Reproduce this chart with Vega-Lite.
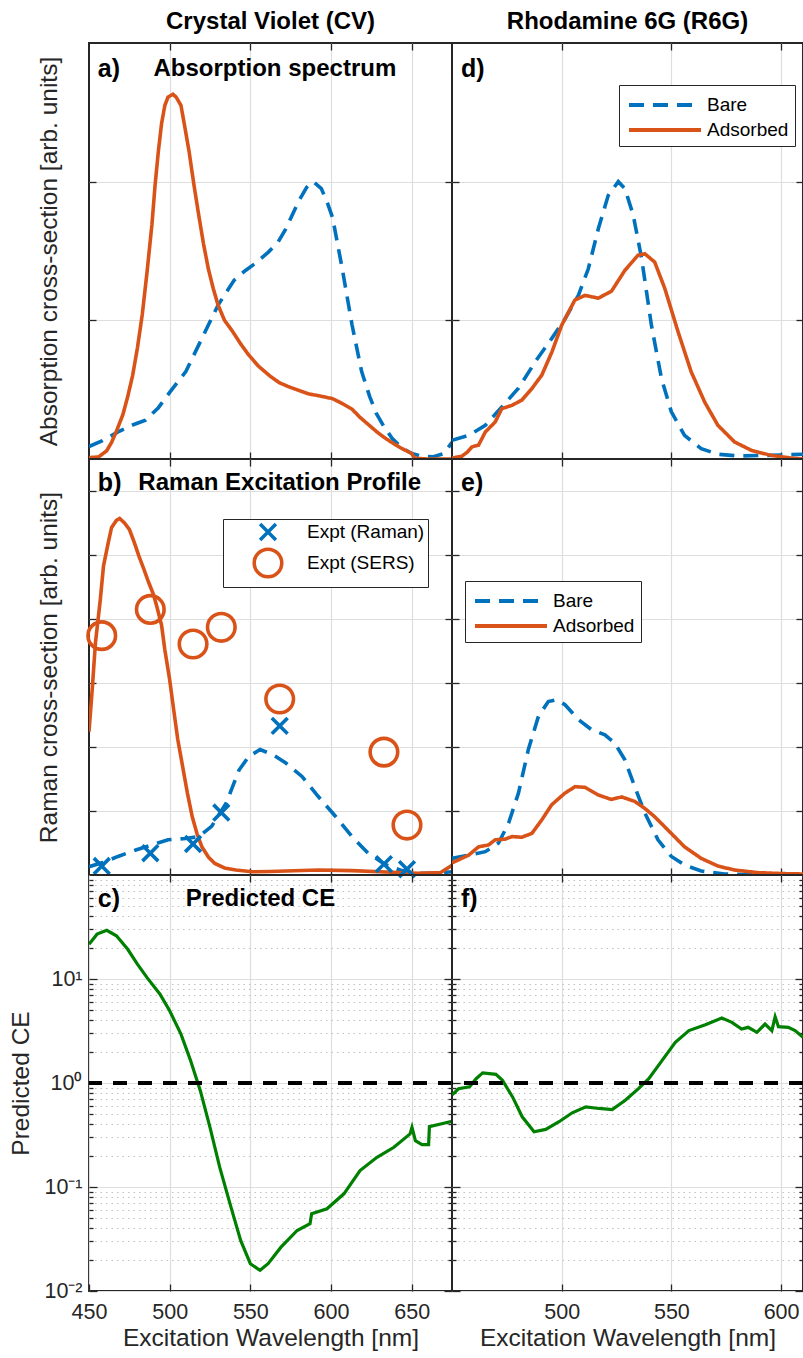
{
  "$schema": "https://vega.github.io/schema/vega-lite/v6.json",
  "padding": {"left": 7, "top": 9, "right": 0, "bottom": 0},
  "bounds": "flush",
  "columns": 2,
  "spacing": 0,
  "resolve": {
    "scale": {"x": "independent", "y": "independent", "color": "independent", "strokeDash": "independent", "shape": "independent", "size": "independent"},
    "axis": {"x": "independent", "y": "independent"}
  },
  "config": {
    "font": "Liberation Sans",
    "view": {"stroke": "#262626", "strokeWidth": 2},
    "axis": {"domain": false, "tickColor": "#262626", "tickWidth": 1.3, "gridColor": "#dedede", "gridWidth": 1.2, "labelColor": "#262626", "labelFontSize": 21.5, "titleColor": "#262626", "titleFontSize": 24.5, "titleFontWeight": "normal", "labelFont": "Liberation Sans", "titleFont": "Liberation Sans"},
    "legend": {"strokeColor": "#262626", "fillColor": "white", "padding": 6, "labelFontSize": 19, "labelColor": "#000000", "labelFont": "Liberation Sans", "cornerRadius": 0},
    "title": {"font": "Liberation Sans", "fontSize": 24, "fontWeight": "bold", "color": "#000000", "offset": 8}
  },
  "datasets": {
    "cvAbs": [
      {"s": "Bare", "wl": 450, "v": 0.09}, {"s": "Bare", "wl": 458, "v": 0.13}, {"s": "Bare", "wl": 468, "v": 0.195}, {"s": "Bare", "wl": 477, "v": 0.245}, {"s": "Bare", "wl": 485, "v": 0.28}, {"s": "Bare", "wl": 493, "v": 0.37}, {"s": "Bare", "wl": 500, "v": 0.48}, {"s": "Bare", "wl": 510, "v": 0.63}, {"s": "Bare", "wl": 520, "v": 0.87}, {"s": "Bare", "wl": 530, "v": 1.11}, {"s": "Bare", "wl": 540, "v": 1.29}, {"s": "Bare", "wl": 547, "v": 1.36}, {"s": "Bare", "wl": 553, "v": 1.41}, {"s": "Bare", "wl": 561, "v": 1.49}, {"s": "Bare", "wl": 567, "v": 1.56}, {"s": "Bare", "wl": 572, "v": 1.66}, {"s": "Bare", "wl": 580, "v": 1.86}, {"s": "Bare", "wl": 585, "v": 1.96}, {"s": "Bare", "wl": 589, "v": 2.0}, {"s": "Bare", "wl": 594, "v": 1.95}, {"s": "Bare", "wl": 598, "v": 1.84}, {"s": "Bare", "wl": 601, "v": 1.74}, {"s": "Bare", "wl": 607, "v": 1.37}, {"s": "Bare", "wl": 613, "v": 0.97}, {"s": "Bare", "wl": 619, "v": 0.63}, {"s": "Bare", "wl": 624, "v": 0.45}, {"s": "Bare", "wl": 628, "v": 0.33}, {"s": "Bare", "wl": 633, "v": 0.23}, {"s": "Bare", "wl": 638, "v": 0.147}, {"s": "Bare", "wl": 644, "v": 0.08}, {"s": "Bare", "wl": 650, "v": 0.04}, {"s": "Bare", "wl": 656, "v": 0.02}, {"s": "Bare", "wl": 663, "v": 0.015}, {"s": "Bare", "wl": 670, "v": 0.04}, {"s": "Bare", "wl": 675, "v": 0.12},
      {"s": "Adsorbed", "wl": 450, "v": 0.01}, {"s": "Adsorbed", "wl": 456, "v": 0.015}, {"s": "Adsorbed", "wl": 461, "v": 0.06}, {"s": "Adsorbed", "wl": 464, "v": 0.12}, {"s": "Adsorbed", "wl": 467, "v": 0.2}, {"s": "Adsorbed", "wl": 471, "v": 0.32}, {"s": "Adsorbed", "wl": 474, "v": 0.45}, {"s": "Adsorbed", "wl": 477, "v": 0.6}, {"s": "Adsorbed", "wl": 480, "v": 0.8}, {"s": "Adsorbed", "wl": 483, "v": 1.04}, {"s": "Adsorbed", "wl": 486, "v": 1.35}, {"s": "Adsorbed", "wl": 489, "v": 1.69}, {"s": "Adsorbed", "wl": 491, "v": 1.98}, {"s": "Adsorbed", "wl": 493, "v": 2.22}, {"s": "Adsorbed", "wl": 495, "v": 2.42}, {"s": "Adsorbed", "wl": 497, "v": 2.55}, {"s": "Adsorbed", "wl": 499, "v": 2.61}, {"s": "Adsorbed", "wl": 502, "v": 2.63}, {"s": "Adsorbed", "wl": 504, "v": 2.61}, {"s": "Adsorbed", "wl": 507, "v": 2.55}, {"s": "Adsorbed", "wl": 509, "v": 2.42}, {"s": "Adsorbed", "wl": 512, "v": 2.22}, {"s": "Adsorbed", "wl": 515, "v": 1.98}, {"s": "Adsorbed", "wl": 518, "v": 1.76}, {"s": "Adsorbed", "wl": 521, "v": 1.55}, {"s": "Adsorbed", "wl": 524, "v": 1.37}, {"s": "Adsorbed", "wl": 527, "v": 1.23}, {"s": "Adsorbed", "wl": 530, "v": 1.11}, {"s": "Adsorbed", "wl": 534, "v": 1.0}, {"s": "Adsorbed", "wl": 539, "v": 0.92}, {"s": "Adsorbed", "wl": 544, "v": 0.83}, {"s": "Adsorbed", "wl": 549, "v": 0.75}, {"s": "Adsorbed", "wl": 555, "v": 0.67}, {"s": "Adsorbed", "wl": 562, "v": 0.6}, {"s": "Adsorbed", "wl": 568, "v": 0.55}, {"s": "Adsorbed", "wl": 574, "v": 0.52}, {"s": "Adsorbed", "wl": 580, "v": 0.495}, {"s": "Adsorbed", "wl": 586, "v": 0.47}, {"s": "Adsorbed", "wl": 593, "v": 0.455}, {"s": "Adsorbed", "wl": 601, "v": 0.435}, {"s": "Adsorbed", "wl": 607, "v": 0.4}, {"s": "Adsorbed", "wl": 613, "v": 0.36}, {"s": "Adsorbed", "wl": 618, "v": 0.3}, {"s": "Adsorbed", "wl": 624, "v": 0.24}, {"s": "Adsorbed", "wl": 629, "v": 0.19}, {"s": "Adsorbed", "wl": 634, "v": 0.147}, {"s": "Adsorbed", "wl": 639, "v": 0.11}, {"s": "Adsorbed", "wl": 644, "v": 0.075}, {"s": "Adsorbed", "wl": 650, "v": 0.04}, {"s": "Adsorbed", "wl": 652, "v": 0.005}, {"s": "Adsorbed", "wl": 660, "v": 0.0}, {"s": "Adsorbed", "wl": 675, "v": 0.0}
    ],
    "cvRep": [
      {"s": "Bare", "wl": 450, "v": 0.13}, {"s": "Bare", "wl": 458, "v": 0.19}, {"s": "Bare", "wl": 468, "v": 0.29}, {"s": "Bare", "wl": 479, "v": 0.39}, {"s": "Bare", "wl": 489, "v": 0.47}, {"s": "Bare", "wl": 499, "v": 0.55}, {"s": "Bare", "wl": 510, "v": 0.57}, {"s": "Bare", "wl": 518, "v": 0.6}, {"s": "Bare", "wl": 526, "v": 0.76}, {"s": "Bare", "wl": 535, "v": 1.12}, {"s": "Bare", "wl": 543, "v": 1.64}, {"s": "Bare", "wl": 549, "v": 1.85}, {"s": "Bare", "wl": 556, "v": 1.96}, {"s": "Bare", "wl": 564, "v": 1.88}, {"s": "Bare", "wl": 572, "v": 1.75}, {"s": "Bare", "wl": 582, "v": 1.54}, {"s": "Bare", "wl": 592, "v": 1.23}, {"s": "Bare", "wl": 603, "v": 0.91}, {"s": "Bare", "wl": 613, "v": 0.6}, {"s": "Bare", "wl": 623, "v": 0.34}, {"s": "Bare", "wl": 634, "v": 0.16}, {"s": "Bare", "wl": 644, "v": 0.068}, {"s": "Bare", "wl": 654, "v": 0.026}, {"s": "Bare", "wl": 665, "v": 0.026}, {"s": "Bare", "wl": 675, "v": 0.05},
      {"s": "Adsorbed", "wl": 450, "v": 2.24}, {"s": "Adsorbed", "wl": 452, "v": 2.9}, {"s": "Adsorbed", "wl": 454, "v": 3.63}, {"s": "Adsorbed", "wl": 457, "v": 4.3}, {"s": "Adsorbed", "wl": 459, "v": 4.83}, {"s": "Adsorbed", "wl": 462, "v": 5.2}, {"s": "Adsorbed", "wl": 464, "v": 5.43}, {"s": "Adsorbed", "wl": 467, "v": 5.54}, {"s": "Adsorbed", "wl": 469, "v": 5.57}, {"s": "Adsorbed", "wl": 472, "v": 5.5}, {"s": "Adsorbed", "wl": 475, "v": 5.4}, {"s": "Adsorbed", "wl": 478, "v": 5.2}, {"s": "Adsorbed", "wl": 481, "v": 4.98}, {"s": "Adsorbed", "wl": 484, "v": 4.78}, {"s": "Adsorbed", "wl": 487, "v": 4.57}, {"s": "Adsorbed", "wl": 490, "v": 4.38}, {"s": "Adsorbed", "wl": 492, "v": 4.2}, {"s": "Adsorbed", "wl": 495, "v": 3.9}, {"s": "Adsorbed", "wl": 497, "v": 3.52}, {"s": "Adsorbed", "wl": 500, "v": 3.05}, {"s": "Adsorbed", "wl": 502.5, "v": 2.58}, {"s": "Adsorbed", "wl": 505, "v": 2.12}, {"s": "Adsorbed", "wl": 508, "v": 1.7}, {"s": "Adsorbed", "wl": 511, "v": 1.28}, {"s": "Adsorbed", "wl": 514, "v": 0.91}, {"s": "Adsorbed", "wl": 517, "v": 0.64}, {"s": "Adsorbed", "wl": 520, "v": 0.44}, {"s": "Adsorbed", "wl": 524, "v": 0.28}, {"s": "Adsorbed", "wl": 528, "v": 0.18}, {"s": "Adsorbed", "wl": 534, "v": 0.11}, {"s": "Adsorbed", "wl": 541, "v": 0.078}, {"s": "Adsorbed", "wl": 551, "v": 0.05}, {"s": "Adsorbed", "wl": 562, "v": 0.055}, {"s": "Adsorbed", "wl": 572, "v": 0.063}, {"s": "Adsorbed", "wl": 592, "v": 0.078}, {"s": "Adsorbed", "wl": 613, "v": 0.068}, {"s": "Adsorbed", "wl": 634, "v": 0.047}, {"s": "Adsorbed", "wl": 654, "v": 0.026}, {"s": "Adsorbed", "wl": 668, "v": 0.04}, {"s": "Adsorbed", "wl": 675, "v": 0.15}
    ],
    "cvExpt": [
      {"s": "Expt (Raman)", "wl": 457.9, "v": 0.14}, {"s": "Expt (Raman)", "wl": 488, "v": 0.34}, {"s": "Expt (Raman)", "wl": 514.5, "v": 0.485}, {"s": "Expt (Raman)", "wl": 532, "v": 0.976}, {"s": "Expt (Raman)", "wl": 568.2, "v": 2.33}, {"s": "Expt (Raman)", "wl": 632.8, "v": 0.17}, {"s": "Expt (Raman)", "wl": 647.1, "v": 0.09},
      {"s": "Expt (SERS)", "wl": 457.9, "v": 3.74}, {"s": "Expt (SERS)", "wl": 488, "v": 4.15}, {"s": "Expt (SERS)", "wl": 514.5, "v": 3.61}, {"s": "Expt (SERS)", "wl": 532, "v": 3.87}, {"s": "Expt (SERS)", "wl": 568.2, "v": 2.75}, {"s": "Expt (SERS)", "wl": 632.8, "v": 1.92}, {"s": "Expt (SERS)", "wl": 647.1, "v": 0.78}
    ],
    "cvCE": [
      {"wl": 450, "v": 21.6}, {"wl": 455, "v": 27}, {"wl": 461, "v": 29.4}, {"wl": 467, "v": 26}, {"wl": 474, "v": 19.3}, {"wl": 480, "v": 13.9}, {"wl": 486, "v": 10.3}, {"wl": 494, "v": 7.15}, {"wl": 500, "v": 4.95}, {"wl": 507, "v": 2.95}, {"wl": 513, "v": 1.64}, {"wl": 519, "v": 0.844}, {"wl": 525, "v": 0.375}, {"wl": 531, "v": 0.155}, {"wl": 538, "v": 0.064}, {"wl": 544, "v": 0.0306}, {"wl": 550, "v": 0.0183}, {"wl": 556, "v": 0.0158}, {"wl": 561, "v": 0.0183}, {"wl": 569, "v": 0.0264}, {"wl": 579, "v": 0.0382}, {"wl": 587, "v": 0.0443}, {"wl": 588, "v": 0.0552}, {"wl": 597.5, "v": 0.0617}, {"wl": 608, "v": 0.086}, {"wl": 618, "v": 0.144}, {"wl": 628.5, "v": 0.193}, {"wl": 639, "v": 0.241}, {"wl": 649, "v": 0.324}, {"wl": 650.2, "v": 0.375}, {"wl": 652.3, "v": 0.279}, {"wl": 656.4, "v": 0.256}, {"wl": 660.5, "v": 0.256}, {"wl": 661, "v": 0.381}, {"wl": 668, "v": 0.404}, {"wl": 675, "v": 0.428}
    ],
    "r6gAbs": [
      {"s": "Bare", "wl": 450, "v": 0.135}, {"s": "Bare", "wl": 457.6, "v": 0.17}, {"s": "Bare", "wl": 465.2, "v": 0.243}, {"s": "Bare", "wl": 472.7, "v": 0.375}, {"s": "Bare", "wl": 480.3, "v": 0.51}, {"s": "Bare", "wl": 487.9, "v": 0.7}, {"s": "Bare", "wl": 495.5, "v": 0.87}, {"s": "Bare", "wl": 501.5, "v": 1.01}, {"s": "Bare", "wl": 507.6, "v": 1.18}, {"s": "Bare", "wl": 512.1, "v": 1.37}, {"s": "Bare", "wl": 516.7, "v": 1.66}, {"s": "Bare", "wl": 521.2, "v": 1.9}, {"s": "Bare", "wl": 525.8, "v": 2.0}, {"s": "Bare", "wl": 528.8, "v": 1.95}, {"s": "Bare", "wl": 532.6, "v": 1.76}, {"s": "Bare", "wl": 536.4, "v": 1.45}, {"s": "Bare", "wl": 540.9, "v": 0.965}, {"s": "Bare", "wl": 545.5, "v": 0.58}, {"s": "Bare", "wl": 550, "v": 0.34}, {"s": "Bare", "wl": 556, "v": 0.17}, {"s": "Bare", "wl": 563.6, "v": 0.075}, {"s": "Bare", "wl": 571.2, "v": 0.034}, {"s": "Bare", "wl": 580.3, "v": 0.022}, {"s": "Bare", "wl": 594, "v": 0.026}, {"s": "Bare", "wl": 610, "v": 0.034},
      {"s": "Adsorbed", "wl": 450, "v": 0.007}, {"s": "Adsorbed", "wl": 454.5, "v": 0.02}, {"s": "Adsorbed", "wl": 457, "v": 0.05}, {"s": "Adsorbed", "wl": 459.1, "v": 0.087}, {"s": "Adsorbed", "wl": 462.1, "v": 0.1}, {"s": "Adsorbed", "wl": 465.2, "v": 0.195}, {"s": "Adsorbed", "wl": 469.7, "v": 0.267}, {"s": "Adsorbed", "wl": 472.7, "v": 0.363}, {"s": "Adsorbed", "wl": 477.3, "v": 0.387}, {"s": "Adsorbed", "wl": 481.8, "v": 0.424}, {"s": "Adsorbed", "wl": 486.4, "v": 0.508}, {"s": "Adsorbed", "wl": 490.9, "v": 0.604}, {"s": "Adsorbed", "wl": 495.5, "v": 0.77}, {"s": "Adsorbed", "wl": 500, "v": 0.965}, {"s": "Adsorbed", "wl": 506, "v": 1.146}, {"s": "Adsorbed", "wl": 510.6, "v": 1.18}, {"s": "Adsorbed", "wl": 516.7, "v": 1.16}, {"s": "Adsorbed", "wl": 522.7, "v": 1.21}, {"s": "Adsorbed", "wl": 528.8, "v": 1.36}, {"s": "Adsorbed", "wl": 534.8, "v": 1.47}, {"s": "Adsorbed", "wl": 537.9, "v": 1.48}, {"s": "Adsorbed", "wl": 542.4, "v": 1.42}, {"s": "Adsorbed", "wl": 547, "v": 1.23}, {"s": "Adsorbed", "wl": 553, "v": 0.92}, {"s": "Adsorbed", "wl": 559, "v": 0.63}, {"s": "Adsorbed", "wl": 565.2, "v": 0.41}, {"s": "Adsorbed", "wl": 571.2, "v": 0.243}, {"s": "Adsorbed", "wl": 578.8, "v": 0.123}, {"s": "Adsorbed", "wl": 586.4, "v": 0.063}, {"s": "Adsorbed", "wl": 595.5, "v": 0.026}, {"s": "Adsorbed", "wl": 604.5, "v": 0.007}, {"s": "Adsorbed", "wl": 610, "v": 0.0}
    ],
    "r6gRep": [
      {"s": "Bare", "wl": 450, "v": 0.26}, {"s": "Bare", "wl": 457.6, "v": 0.31}, {"s": "Bare", "wl": 465.2, "v": 0.365}, {"s": "Bare", "wl": 471.2, "v": 0.5}, {"s": "Bare", "wl": 475.8, "v": 0.81}, {"s": "Bare", "wl": 480.3, "v": 1.28}, {"s": "Bare", "wl": 484.8, "v": 1.96}, {"s": "Bare", "wl": 489.4, "v": 2.48}, {"s": "Bare", "wl": 493.9, "v": 2.71}, {"s": "Bare", "wl": 497.7, "v": 2.74}, {"s": "Bare", "wl": 501.5, "v": 2.66}, {"s": "Bare", "wl": 507.6, "v": 2.43}, {"s": "Bare", "wl": 513.6, "v": 2.27}, {"s": "Bare", "wl": 519.7, "v": 2.19}, {"s": "Bare", "wl": 524.2, "v": 2.06}, {"s": "Bare", "wl": 528.8, "v": 1.8}, {"s": "Bare", "wl": 533.3, "v": 1.38}, {"s": "Bare", "wl": 537.9, "v": 0.97}, {"s": "Bare", "wl": 543.9, "v": 0.55}, {"s": "Bare", "wl": 550, "v": 0.29}, {"s": "Bare", "wl": 556, "v": 0.157}, {"s": "Bare", "wl": 563.6, "v": 0.063}, {"s": "Bare", "wl": 574.2, "v": 0.016}, {"s": "Bare", "wl": 586.4, "v": 0.005}, {"s": "Bare", "wl": 610, "v": 0.005},
      {"s": "Adsorbed", "wl": 450, "v": 0.19}, {"s": "Adsorbed", "wl": 457.6, "v": 0.31}, {"s": "Adsorbed", "wl": 462.1, "v": 0.44}, {"s": "Adsorbed", "wl": 466.7, "v": 0.47}, {"s": "Adsorbed", "wl": 469.7, "v": 0.55}, {"s": "Adsorbed", "wl": 474.2, "v": 0.56}, {"s": "Adsorbed", "wl": 477.3, "v": 0.6}, {"s": "Adsorbed", "wl": 481.8, "v": 0.59}, {"s": "Adsorbed", "wl": 486.4, "v": 0.65}, {"s": "Adsorbed", "wl": 490.9, "v": 0.86}, {"s": "Adsorbed", "wl": 495.5, "v": 1.1}, {"s": "Adsorbed", "wl": 501.5, "v": 1.28}, {"s": "Adsorbed", "wl": 506.1, "v": 1.38}, {"s": "Adsorbed", "wl": 510.6, "v": 1.37}, {"s": "Adsorbed", "wl": 516.7, "v": 1.25}, {"s": "Adsorbed", "wl": 522.7, "v": 1.18}, {"s": "Adsorbed", "wl": 527.3, "v": 1.22}, {"s": "Adsorbed", "wl": 533.3, "v": 1.15}, {"s": "Adsorbed", "wl": 537.9, "v": 1.04}, {"s": "Adsorbed", "wl": 542.4, "v": 0.91}, {"s": "Adsorbed", "wl": 548.5, "v": 0.7}, {"s": "Adsorbed", "wl": 556, "v": 0.44}, {"s": "Adsorbed", "wl": 563.6, "v": 0.26}, {"s": "Adsorbed", "wl": 571.2, "v": 0.14}, {"s": "Adsorbed", "wl": 578.8, "v": 0.078}, {"s": "Adsorbed", "wl": 589.4, "v": 0.037}, {"s": "Adsorbed", "wl": 601.5, "v": 0.021}, {"s": "Adsorbed", "wl": 610, "v": 0.016}
    ],
    "r6gCE": [
      {"wl": 450, "v": 0.77}, {"wl": 453, "v": 0.88}, {"wl": 458, "v": 0.92}, {"wl": 461, "v": 1.1}, {"wl": 464, "v": 1.25}, {"wl": 470, "v": 1.21}, {"wl": 473, "v": 1.06}, {"wl": 477.6, "v": 0.735}, {"wl": 482, "v": 0.473}, {"wl": 487.4, "v": 0.34}, {"wl": 492.7, "v": 0.358}, {"wl": 498.8, "v": 0.424}, {"wl": 504.8, "v": 0.517}, {"wl": 511, "v": 0.59}, {"wl": 517, "v": 0.569}, {"wl": 523, "v": 0.556}, {"wl": 529, "v": 0.683}, {"wl": 535, "v": 0.883}, {"wl": 539.7, "v": 1.1}, {"wl": 545.8, "v": 1.65}, {"wl": 551.8, "v": 2.46}, {"wl": 558, "v": 3.19}, {"wl": 565.5, "v": 3.63}, {"wl": 573, "v": 4.21}, {"wl": 577.6, "v": 3.83}, {"wl": 582, "v": 3.3}, {"wl": 585, "v": 3.43}, {"wl": 589, "v": 3.07}, {"wl": 592.7, "v": 3.69}, {"wl": 595.8, "v": 3.19}, {"wl": 597.3, "v": 4.33}, {"wl": 598.8, "v": 3.48}, {"wl": 603.3, "v": 3.43}, {"wl": 606.4, "v": 3.19}, {"wl": 610, "v": 2.75}
    ]
  },
  "concat": [
    {
      "width": 363, "height": 416,
      "title": {"text": "Crystal Violet (CV)"},
      "resolve": {"axis": {"x": "independent", "y": "independent"}},
      "layer": [
        {"data": {"name": "cvAbs"}, "mark": {"type": "line", "strokeWidth": 3.6, "clip": true},
         "encoding": {
           "x": {"field": "wl", "type": "quantitative", "scale": {"domain": [450, 675], "nice": false}, "axis": {"orient": "bottom", "values": [500, 550, 600, 650], "labels": false, "title": null, "tickSize": -7, "grid": true}},
           "y": {"field": "v", "type": "quantitative", "scale": {"domain": [0, 3], "nice": false}, "axis": {"orient": "left", "values": [1, 2], "labels": false, "title": "Absorption cross-section [arb. units]", "titlePadding": 27, "tickSize": -7, "grid": true}},
           "color": {"field": "s", "type": "nominal", "scale": {"domain": ["Bare", "Adsorbed"], "range": ["#0072BD", "#D95319"]}, "legend": null},
           "strokeDash": {"field": "s", "type": "nominal", "scale": {"domain": ["Bare", "Adsorbed"], "range": [[15, 9], [1, 0]]}, "legend": null}
         }},
        {"data": {"name": "cvAbs"}, "mark": {"type": "line", "opacity": 0},
         "encoding": {
           "x": {"field": "wl", "type": "quantitative", "scale": {"domain": [450, 675], "nice": false}, "axis": {"orient": "top", "values": [500, 550, 600, 650], "labels": false, "title": null, "tickSize": -7, "grid": false}},
           "y": {"field": "v", "type": "quantitative", "scale": {"domain": [0, 3], "nice": false}, "axis": {"orient": "right", "values": [1, 2], "labels": false, "title": null, "tickSize": -7, "grid": false}},
           "detail": {"field": "s"}
         }},
        {"data": {"values": [{}]}, "mark": {"type": "text", "text": "a)", "align": "left", "baseline": "middle", "fontSize": 25, "fontWeight": "bold", "color": "#000000"},
         "encoding": {"x": {"datum": 455.5, "type": "quantitative", "scale": {"domain": [450, 675], "nice": false}, "axis": null}, "y": {"datum": 2.81, "type": "quantitative", "scale": {"domain": [0, 3], "nice": false}, "axis": null}}},
        {"data": {"values": [{}]}, "mark": {"type": "text", "text": "Absorption spectrum", "align": "left", "baseline": "middle", "fontSize": 24, "fontWeight": "bold", "color": "#000000"},
         "encoding": {"x": {"datum": 490, "type": "quantitative", "scale": {"domain": [450, 675], "nice": false}, "axis": null}, "y": {"datum": 2.81, "type": "quantitative", "scale": {"domain": [0, 3], "nice": false}, "axis": null}}}
      ]
    },
    {
      "width": 351, "height": 416,
      "title": {"text": "Rhodamine 6G (R6G)"},
      "resolve": {"axis": {"x": "independent", "y": "independent"}},
      "layer": [
        {"data": {"name": "r6gAbs"}, "mark": {"type": "line", "strokeWidth": 3.6, "clip": true},
         "encoding": {
           "x": {"field": "wl", "type": "quantitative", "scale": {"domain": [450, 610], "nice": false}, "axis": {"orient": "bottom", "values": [500, 550, 600], "labels": false, "title": null, "tickSize": -7, "grid": true}},
           "y": {"field": "v", "type": "quantitative", "scale": {"domain": [0, 3], "nice": false}, "axis": {"orient": "left", "values": [1, 2], "labels": false, "title": null, "tickSize": -7, "grid": true}},
           "color": {"field": "s", "type": "nominal", "scale": {"domain": ["Bare", "Adsorbed"], "range": ["#0072BD", "#D95319"]}, "legend": {"title": null, "orient": "none", "legendX": 167, "legendY": 42, "symbolType": "M-3,0L3,0", "symbolSize": 576, "symbolStrokeWidth": 4, "symbolOffset": 26, "labelOffset": 28, "rowPadding": 1}},
           "strokeDash": {"field": "s", "type": "nominal", "scale": {"domain": ["Bare", "Adsorbed"], "range": [[15, 9], [1, 0]]}, "legend": {"title": null, "orient": "none", "legendX": 167, "legendY": 42, "symbolType": "M-3,0L3,0", "symbolSize": 576, "symbolStrokeWidth": 4, "symbolOffset": 26, "labelOffset": 28, "rowPadding": 1}}
         }},
        {"data": {"name": "r6gAbs"}, "mark": {"type": "line", "opacity": 0},
         "encoding": {
           "x": {"field": "wl", "type": "quantitative", "scale": {"domain": [450, 610], "nice": false}, "axis": {"orient": "top", "values": [500, 550, 600], "labels": false, "title": null, "tickSize": -7, "grid": false}},
           "y": {"field": "v", "type": "quantitative", "scale": {"domain": [0, 3], "nice": false}, "axis": {"orient": "right", "values": [1, 2], "labels": false, "title": null, "tickSize": -7, "grid": false}},
           "detail": {"field": "s"}
         }},
        {"data": {"values": [{}]}, "mark": {"type": "text", "text": "d)", "align": "left", "baseline": "middle", "fontSize": 25, "fontWeight": "bold", "color": "#000000"},
         "encoding": {"x": {"datum": 454.1, "type": "quantitative", "scale": {"domain": [450, 610], "nice": false}, "axis": null}, "y": {"datum": 2.81, "type": "quantitative", "scale": {"domain": [0, 3], "nice": false}, "axis": null}}}
      ]
    },
    {
      "width": 363, "height": 416,
      "resolve": {"axis": {"x": "independent", "y": "independent"}},
      "layer": [
        {"data": {"name": "cvRep"}, "transform": [{"filter": "datum.s == 'Bare'"}], "mark": {"type": "line", "strokeWidth": 3.6, "color": "#0072BD", "strokeDash": [15, 9], "clip": true},
         "encoding": {
           "x": {"field": "wl", "type": "quantitative", "scale": {"domain": [450, 675], "nice": false}, "axis": {"orient": "bottom", "values": [500, 550, 600, 650], "labels": false, "title": null, "tickSize": -7, "grid": true}},
           "y": {"field": "v", "type": "quantitative", "scale": {"domain": [0, 6.5], "nice": false}, "axis": {"orient": "left", "values": [1, 2, 3, 4, 5, 6], "labels": false, "title": "Raman cross-section [arb. units]", "titlePadding": 27, "tickSize": -7, "grid": true}}
         }},
        {"data": {"name": "cvRep"}, "transform": [{"filter": "datum.s == 'Adsorbed'"}], "mark": {"type": "line", "strokeWidth": 3.6, "color": "#D95319", "clip": true},
         "encoding": {
           "x": {"field": "wl", "type": "quantitative", "scale": {"domain": [450, 675], "nice": false}, "axis": null},
           "y": {"field": "v", "type": "quantitative", "scale": {"domain": [0, 6.5], "nice": false}, "axis": null}
         }},
        {"data": {"name": "cvExpt"}, "mark": {"type": "point", "filled": false, "strokeWidth": 3.6, "opacity": 1},
         "encoding": {
           "x": {"field": "wl", "type": "quantitative", "scale": {"domain": [450, 675], "nice": false}, "axis": null},
           "y": {"field": "v", "type": "quantitative", "scale": {"domain": [0, 6.5], "nice": false}, "axis": null},
           "color": {"field": "s", "type": "nominal", "scale": {"domain": ["Expt (Raman)", "Expt (SERS)"], "range": ["#0072BD", "#D95319"]}, "legend": {"title": null, "orient": "none", "legendX": 134, "legendY": 60, "symbolStrokeWidth": 3.5, "symbolOffset": 26, "labelOffset": 23, "rowPadding": -13, "padding": 3}},
           "shape": {"field": "s", "type": "nominal", "scale": {"domain": ["Expt (Raman)", "Expt (SERS)"], "range": ["M-1,-1L1,1M1,-1L-1,1", "circle"]}, "legend": {"title": null, "orient": "none", "legendX": 134, "legendY": 60, "symbolStrokeWidth": 3.5, "symbolOffset": 26, "labelOffset": 23, "rowPadding": -13, "padding": 3}},
           "size": {"field": "s", "type": "nominal", "scale": {"domain": ["Expt (Raman)", "Expt (SERS)"], "range": [250, 760]}, "legend": {"title": null, "orient": "none", "legendX": 134, "legendY": 60, "symbolStrokeWidth": 3.5, "symbolOffset": 26, "labelOffset": 23, "rowPadding": -13, "padding": 3}}
         }},
        {"data": {"name": "cvRep"}, "mark": {"type": "line", "opacity": 0},
         "encoding": {
           "x": {"field": "wl", "type": "quantitative", "scale": {"domain": [450, 675], "nice": false}, "axis": {"orient": "top", "values": [500, 550, 600, 650], "labels": false, "title": null, "tickSize": -7, "grid": false}},
           "y": {"field": "v", "type": "quantitative", "scale": {"domain": [0, 6.5], "nice": false}, "axis": {"orient": "right", "values": [1, 2, 3, 4, 5, 6], "labels": false, "title": null, "tickSize": -7, "grid": false}},
           "detail": {"field": "s"}
         }},
        {"data": {"values": [{}]}, "mark": {"type": "text", "text": "b)", "align": "left", "baseline": "middle", "fontSize": 25, "fontWeight": "bold", "color": "#000000"},
         "encoding": {"x": {"datum": 455.5, "type": "quantitative", "scale": {"domain": [450, 675], "nice": false}, "axis": null}, "y": {"datum": 6.12, "type": "quantitative", "scale": {"domain": [0, 6.5], "nice": false}, "axis": null}}},
        {"data": {"values": [{}]}, "mark": {"type": "text", "text": "Raman Excitation Profile", "align": "left", "baseline": "middle", "fontSize": 24, "fontWeight": "bold", "color": "#000000"},
         "encoding": {"x": {"datum": 480.6, "type": "quantitative", "scale": {"domain": [450, 675], "nice": false}, "axis": null}, "y": {"datum": 6.12, "type": "quantitative", "scale": {"domain": [0, 6.5], "nice": false}, "axis": null}}}
      ]
    },
    {
      "width": 351, "height": 416,
      "resolve": {"axis": {"x": "independent", "y": "independent"}},
      "layer": [
        {"data": {"name": "r6gRep"}, "mark": {"type": "line", "strokeWidth": 3.6, "clip": true},
         "encoding": {
           "x": {"field": "wl", "type": "quantitative", "scale": {"domain": [450, 610], "nice": false}, "axis": {"orient": "bottom", "values": [500, 550, 600], "labels": false, "title": null, "tickSize": -7, "grid": true}},
           "y": {"field": "v", "type": "quantitative", "scale": {"domain": [0, 6.5], "nice": false}, "axis": {"orient": "left", "values": [1, 2, 3, 4, 5, 6], "labels": false, "title": null, "tickSize": -7, "grid": true}},
           "color": {"field": "s", "type": "nominal", "scale": {"domain": ["Bare", "Adsorbed"], "range": ["#0072BD", "#D95319"]}, "legend": {"title": null, "orient": "none", "legendX": 13, "legendY": 122, "symbolType": "M-3,0L3,0", "symbolSize": 576, "symbolStrokeWidth": 4, "symbolOffset": 26, "labelOffset": 28, "rowPadding": 1}},
           "strokeDash": {"field": "s", "type": "nominal", "scale": {"domain": ["Bare", "Adsorbed"], "range": [[15, 9], [1, 0]]}, "legend": {"title": null, "orient": "none", "legendX": 13, "legendY": 122, "symbolType": "M-3,0L3,0", "symbolSize": 576, "symbolStrokeWidth": 4, "symbolOffset": 26, "labelOffset": 28, "rowPadding": 1}}
         }},
        {"data": {"name": "r6gRep"}, "mark": {"type": "line", "opacity": 0},
         "encoding": {
           "x": {"field": "wl", "type": "quantitative", "scale": {"domain": [450, 610], "nice": false}, "axis": {"orient": "top", "values": [500, 550, 600], "labels": false, "title": null, "tickSize": -7, "grid": false}},
           "y": {"field": "v", "type": "quantitative", "scale": {"domain": [0, 6.5], "nice": false}, "axis": {"orient": "right", "values": [1, 2, 3, 4, 5, 6], "labels": false, "title": null, "tickSize": -7, "grid": false}},
           "detail": {"field": "s"}
         }},
        {"data": {"values": [{}]}, "mark": {"type": "text", "text": "e)", "align": "left", "baseline": "middle", "fontSize": 25, "fontWeight": "bold", "color": "#000000"},
         "encoding": {"x": {"datum": 454.1, "type": "quantitative", "scale": {"domain": [450, 610], "nice": false}, "axis": null}, "y": {"datum": 6.12, "type": "quantitative", "scale": {"domain": [0, 6.5], "nice": false}, "axis": null}}}
      ]
    },
    {
      "width": 363, "height": 416,
      "resolve": {"axis": {"x": "independent", "y": "independent"}},
      "layer": [
        {"data": {"name": "cvCE"}, "mark": {"type": "line", "strokeWidth": 3.2, "color": "#008000", "clip": true},
         "encoding": {
           "x": {"field": "wl", "type": "quantitative", "scale": {"domain": [450, 675], "nice": false}, "axis": {"orient": "bottom", "values": [450, 500, 550, 600, 650], "title": "Excitation Wavelength [nm]", "labelPadding": 17, "titlePadding": 4, "tickSize": -7, "grid": true, "labelFlush": false}},
           "y": {"field": "v", "type": "quantitative", "scale": {"type": "log", "domain": [0.01, 100], "nice": false}, "axis": {"orient": "left", "values": [0.01, 0.02, 0.03, 0.04, 0.05, 0.06, 0.07, 0.08, 0.09, 0.1, 0.2, 0.3, 0.4, 0.5, 0.6, 0.7, 0.8, 0.9, 1, 2, 3, 4, 5, 6, 7, 8, 9, 10, 20, 30, 40, 50, 60, 70, 80, 90], "labelExpr": "datum.value==10?'10\u00b9':datum.value==1?'10\u2070':datum.value==0.1?'10\u207b\u00b9':datum.value==0.01?'10\u207b\u00b2':''", "labelOverlap": false, "labelPadding": 15, "title": "Predicted CE", "titlePadding": 10, "tickSize": {"condition": {"test": "datum.value==0.01||datum.value==0.1||datum.value==1||datum.value==10", "value": -8}, "value": -4}, "grid": true, "gridDash": {"condition": {"test": "datum.value==0.01||datum.value==0.1||datum.value==1||datum.value==10", "value": [1, 0]}, "value": [1.5, 4]}, "gridColor": {"condition": {"test": "datum.value==0.01||datum.value==0.1||datum.value==1||datum.value==10", "value": "#dedede"}, "value": "#c2c2c2"}}}
         }},
        {"data": {"values": [{}]}, "mark": {"type": "rule", "color": "#000000", "strokeWidth": 4, "strokeDash": [14, 11]},
         "encoding": {"y": {"datum": 1, "type": "quantitative", "scale": {"type": "log", "domain": [0.01, 100], "nice": false}, "axis": null}}},
        {"data": {"name": "cvCE"}, "mark": {"type": "line", "opacity": 0},
         "encoding": {
           "x": {"field": "wl", "type": "quantitative", "scale": {"domain": [450, 675], "nice": false}, "axis": {"orient": "top", "values": [500, 550, 600, 650], "labels": false, "title": null, "tickSize": -7, "grid": false}},
           "y": {"field": "v", "type": "quantitative", "scale": {"type": "log", "domain": [0.01, 100], "nice": false}, "axis": {"orient": "right", "values": [0.01, 0.02, 0.03, 0.04, 0.05, 0.06, 0.07, 0.08, 0.09, 0.1, 0.2, 0.3, 0.4, 0.5, 0.6, 0.7, 0.8, 0.9, 1, 2, 3, 4, 5, 6, 7, 8, 9, 10, 20, 30, 40, 50, 60, 70, 80, 90], "labels": false, "title": null, "tickSize": {"condition": {"test": "datum.value==0.01||datum.value==0.1||datum.value==1||datum.value==10", "value": -8}, "value": -4}, "grid": false}}
         }},
        {"data": {"values": [{}]}, "mark": {"type": "text", "text": "c)", "align": "left", "baseline": "middle", "fontSize": 25, "fontWeight": "bold", "color": "#000000"},
         "encoding": {"x": {"datum": 455.5, "type": "quantitative", "scale": {"domain": [450, 675], "nice": false}, "axis": null}, "y": {"datum": 58.6, "type": "quantitative", "scale": {"type": "log", "domain": [0.01, 100], "nice": false}, "axis": null}}},
        {"data": {"values": [{}]}, "mark": {"type": "text", "text": "Predicted CE", "align": "left", "baseline": "middle", "fontSize": 24, "fontWeight": "bold", "color": "#000000"},
         "encoding": {"x": {"datum": 510, "type": "quantitative", "scale": {"domain": [450, 675], "nice": false}, "axis": null}, "y": {"datum": 58.6, "type": "quantitative", "scale": {"type": "log", "domain": [0.01, 100], "nice": false}, "axis": null}}}
      ]
    },
    {
      "width": 351, "height": 416,
      "resolve": {"axis": {"x": "independent", "y": "independent"}},
      "layer": [
        {"data": {"name": "r6gCE"}, "mark": {"type": "line", "strokeWidth": 3.2, "color": "#008000", "clip": true},
         "encoding": {
           "x": {"field": "wl", "type": "quantitative", "scale": {"domain": [450, 610], "nice": false}, "axis": {"orient": "bottom", "values": [500, 550, 600], "title": "Excitation Wavelength [nm]", "labelPadding": 17, "titlePadding": 4, "tickSize": -7, "grid": true, "labelFlush": false}},
           "y": {"field": "v", "type": "quantitative", "scale": {"type": "log", "domain": [0.01, 100], "nice": false}, "axis": {"orient": "left", "values": [0.01, 0.02, 0.03, 0.04, 0.05, 0.06, 0.07, 0.08, 0.09, 0.1, 0.2, 0.3, 0.4, 0.5, 0.6, 0.7, 0.8, 0.9, 1, 2, 3, 4, 5, 6, 7, 8, 9, 10, 20, 30, 40, 50, 60, 70, 80, 90], "labels": false, "title": null, "tickSize": {"condition": {"test": "datum.value==0.01||datum.value==0.1||datum.value==1||datum.value==10", "value": -8}, "value": -4}, "grid": true, "gridDash": {"condition": {"test": "datum.value==0.01||datum.value==0.1||datum.value==1||datum.value==10", "value": [1, 0]}, "value": [1.5, 4]}, "gridColor": {"condition": {"test": "datum.value==0.01||datum.value==0.1||datum.value==1||datum.value==10", "value": "#dedede"}, "value": "#c2c2c2"}}}
         }},
        {"data": {"values": [{}]}, "mark": {"type": "rule", "color": "#000000", "strokeWidth": 4, "strokeDash": [14, 11]},
         "encoding": {"y": {"datum": 1, "type": "quantitative", "scale": {"type": "log", "domain": [0.01, 100], "nice": false}, "axis": null}}},
        {"data": {"name": "r6gCE"}, "mark": {"type": "line", "opacity": 0},
         "encoding": {
           "x": {"field": "wl", "type": "quantitative", "scale": {"domain": [450, 610], "nice": false}, "axis": {"orient": "top", "values": [500, 550, 600], "labels": false, "title": null, "tickSize": -7, "grid": false}},
           "y": {"field": "v", "type": "quantitative", "scale": {"type": "log", "domain": [0.01, 100], "nice": false}, "axis": {"orient": "right", "values": [0.01, 0.02, 0.03, 0.04, 0.05, 0.06, 0.07, 0.08, 0.09, 0.1, 0.2, 0.3, 0.4, 0.5, 0.6, 0.7, 0.8, 0.9, 1, 2, 3, 4, 5, 6, 7, 8, 9, 10, 20, 30, 40, 50, 60, 70, 80, 90], "labels": false, "title": null, "tickSize": {"condition": {"test": "datum.value==0.01||datum.value==0.1||datum.value==1||datum.value==10", "value": -8}, "value": -4}, "grid": false}}
         }},
        {"data": {"values": [{}]}, "mark": {"type": "text", "text": "f)", "align": "left", "baseline": "middle", "fontSize": 25, "fontWeight": "bold", "color": "#000000"},
         "encoding": {"x": {"datum": 454.1, "type": "quantitative", "scale": {"domain": [450, 610], "nice": false}, "axis": null}, "y": {"datum": 58.6, "type": "quantitative", "scale": {"type": "log", "domain": [0.01, 100], "nice": false}, "axis": null}}}
      ]
    }
  ]
}
